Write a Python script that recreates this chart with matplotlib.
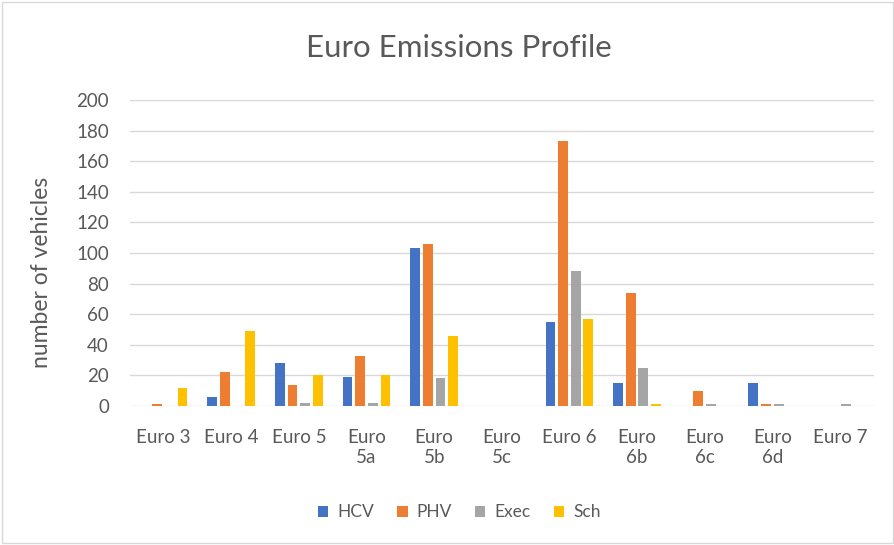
import matplotlib.pyplot as plt
import numpy as np
from matplotlib.patches import Rectangle

categories = ['Euro 3', 'Euro 4', 'Euro 5', 'Euro\n5a', 'Euro\n5b', 'Euro\n5c',
              'Euro 6', 'Euro\n6b', 'Euro\n6c', 'Euro\n6d', 'Euro 7']
hcv = [0, 6, 28, 19, 103, 0, 55, 15, 0, 15, 0]
phv = [1, 22, 14, 33, 106, 0, 173, 74, 10, 1, 0]
exec_ = [0, 0, 2, 2, 18, 0, 88, 25, 1, 1, 1]
sch = [12, 49, 20, 20, 46, 0, 57, 1, 0, 0, 0]

series = [('HCV', hcv, '#4472C4'), ('PHV', phv, '#ED7D31'),
          ('Exec', exec_, '#A5A5A5'), ('Sch', sch, '#FFC000')]

plt.rcParams['font.family'] = ['Lato', 'DejaVu Sans']
text_color = '#595959'

fig = plt.figure(figsize=(8.95, 5.45), dpi=100)
ax = fig.add_axes([0.145, 0.255, 0.8313, 0.5615])

x = np.arange(len(categories))
step = 0.187
width = 0.145
for i, (name, vals, color) in enumerate(series):
    ax.bar(x + (i - 1.5) * step, vals, width, color=color, label=name, zorder=3)

ax.set_xlim(-0.5, len(categories) - 0.5)
ax.set_ylim(0, 200)
ax.set_yticks(range(0, 201, 20))
ax.set_xticks(x)
ax.set_xticklabels(categories, linespacing=1.2)
ax.tick_params(axis='both', length=0, labelsize=13.5, colors=text_color)
ax.tick_params(axis='x', pad=16.5)
ax.tick_params(axis='y', pad=15)
ax.grid(axis='y', color='#d9d9d9', linewidth=1, zorder=0)
for s in ax.spines.values():
    s.set_visible(False)

ax.set_ylabel('number of vehicles', fontsize=16.5, color=text_color)
ax.yaxis.set_label_coords(52 / 895, 0.5, transform=fig.transFigure)
fig.text(0.513, 0.912, 'Euro Emissions Profile', ha='center', va='center',
         fontsize=22.5, color=text_color)

handles, labels = ax.get_legend_handles_labels()
fig.legend(handles, labels, loc='center', bbox_to_anchor=(0.513, 0.06), ncol=4,
           frameon=False, fontsize=12.5, labelcolor=text_color,
           handlelength=0.6, handleheight=0.6, handletextpad=0.5, columnspacing=1.35)

fig.patches.append(Rectangle((0.002, 0.003), 0.996, 0.994, transform=fig.transFigure,
                             fill=False, edgecolor='#d9d9d9', linewidth=1))

fig.savefig('out.png', dpi=100)
